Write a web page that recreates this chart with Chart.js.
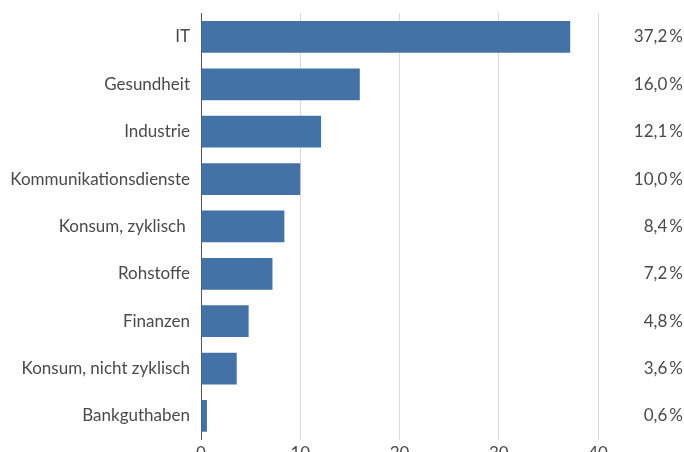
<!DOCTYPE html>
<html>
<head>
<meta charset="utf-8">
<script src="https://cdn.jsdelivr.net/npm/chart.js@4/dist/chart.umd.min.js"></script>
<style>
  html, body { margin: 0; padding: 0; background: #fff; overflow: hidden; }
  #wrap { position: relative; width: 684px; height: 476px; margin-top: -8px; }
</style>
</head>
<body>
<div id="wrap"><canvas id="myBarChart"></canvas></div>
<script>
var categories = ["IT", "Gesundheit", "Industrie", "Kommunikationsdienste", "Konsum, zyklisch ", "Rohstoffe", "Finanzen", "Konsum, nicht zyklisch", "Bankguthaben"];
var shares = [37.2, 16.0, 12.1, 10.0, 8.4, 7.2, 4.8, 3.6, 0.6];
var xTicks = [0, 10, 20, 30, 40];

var textColor = '#4a4a4a';
var fontFamily = 'Lato, "Noto Sans", sans-serif';

// value column on the right
var valueLabels = {
    id: 'valueLabels',
    afterDraw: function(chart){
        var ctx = chart.ctx;
        var yScale = chart.scales.y;
        ctx.save();
        ctx.font = '17px ' + fontFamily;
        ctx.fillStyle = textColor;
        ctx.textAlign = 'right';
        ctx.textBaseline = 'middle';
        shares.forEach(function(v, i){
            var txt = v.toFixed(1).replace('.', ',') + '\u2009%';
            ctx.fillText(txt, chart.width - 1, yScale.getPixelForValue(i));
        });
        ctx.restore();
    }
};

var ctx1 = document.getElementById("myBarChart");
var myBarChart = new Chart(ctx1, {
    type: 'bar',
    data: {
        labels: categories,
        datasets: [{
            data: shares,
            backgroundColor: '#4472a7',
            barPercentage: 0.67,
            categoryPercentage: 1
        }]
    },
    options: {
        indexAxis: 'y',
        responsive: true,
        maintainAspectRatio: false,
        animation: false,
        layout: {
            padding: { top: 6, right: 86, left: 0, bottom: 0 }
        },
        plugins: {
            legend: { display: false },
            tooltip: { enabled: false }
        },
        scales: {
            x: {
                min: 0,
                max: 40,
                afterBuildTicks: function(scale){
                    scale.ticks = xTicks.map(function(v){ return { value: v }; });
                },
                grid: {
                    color: function(c){ return c.tick && c.tick.value === 0 ? 'rgba(0,0,0,0)' : '#d9d9d9'; },
                    drawTicks: false
                },
                border: { display: false },
                ticks: {
                    color: textColor,
                    font: { family: fontFamily, size: 17 },
                    padding: 4,
                    maxRotation: 0
                }
            },
            y: {
                afterFit: function(scale){ scale.width = 201; },
                grid: { display: false, drawTicks: false },
                border: { display: true, color: '#555555', width: 1 },
                ticks: {
                    color: textColor,
                    font: { family: fontFamily, size: 17 },
                    padding: 11
                }
            }
        }
    },
    plugins: [valueLabels]
});
</script>
</body>
</html>
